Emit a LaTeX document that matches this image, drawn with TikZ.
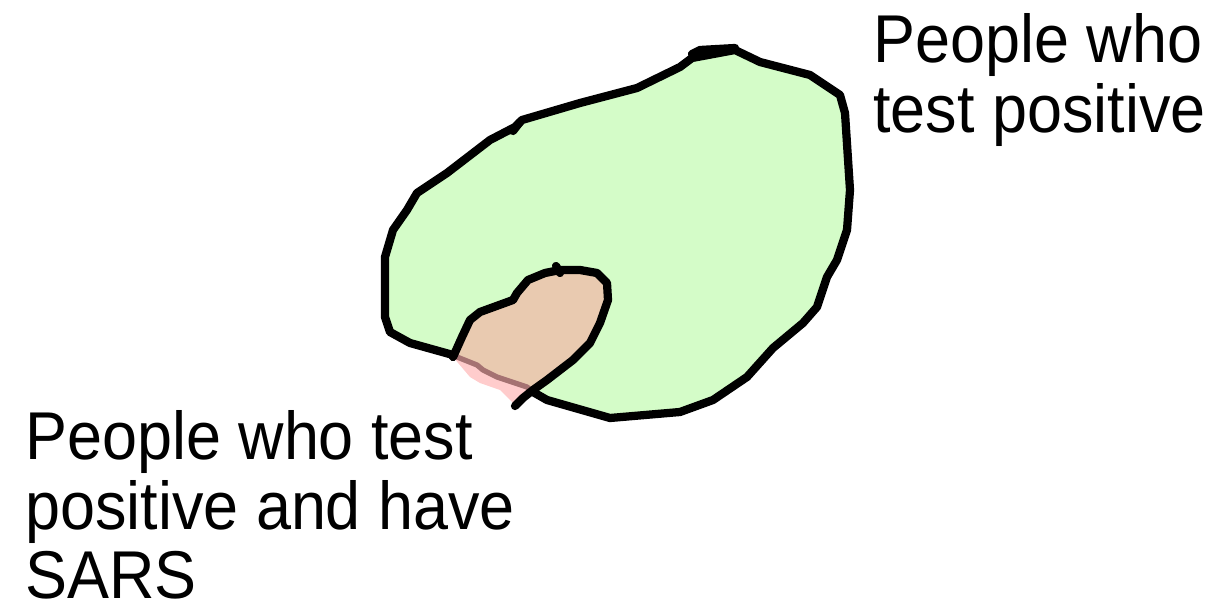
\documentclass[tikz,border=0pt]{standalone}
\usepackage{fontspec}
\setmainfont{Liberation Sans}
\newfontfamily\blobfont[FakeStretch=0.93]{Liberation Sans}
\definecolor{posgreen}{HTML}{D4FCC8}
\definecolor{sarspink}{HTML}{FF9999}
\begin{document}
\begin{tikzpicture}[x=0.02cm,y=-0.02cm,
  outline/.style={line width=4.7pt, line join=round, line cap=round},
  caption/.style={inner sep=0pt, anchor=north west, align=left,
    font=\blobfont\fontsize{38.5}{39.7}\selectfont}]
\useasboundingbox (0,0) rectangle (1215,605);
% people who test positive
\fill[posgreen] (453,355) -- (410,343) -- (390,332) -- (385,317) -- (385,257) -- (393,230) -- (407,210) -- (417,193) -- (447,173) -- (490,140) -- (515,127) -- (522,120) -- (580,103) -- (637,88) -- (680,67) -- (692,58) -- (735,50) -- (760,62) -- (810,75) -- (840,95) -- (845,113) -- (850,190) -- (847,230) -- (837,260) -- (827,277) -- (817,307) -- (803,323) -- (773,348) -- (747,377) -- (713,400) -- (680,412) -- (610,418) -- (547,400) -- (533,392) -- (527,387) -- (497,377) -- (483,370) -- (477,365) -- (457,357) -- cycle;
\draw[outline] (453,355) -- (410,343) -- (390,332) -- (385,317) -- (385,257) -- (393,230) -- (407,210) -- (417,193) -- (447,173) -- (490,140) -- (515,127) -- (522,120) -- (580,103) -- (637,88) -- (680,67) -- (692,58) -- (735,50) -- (760,62) -- (810,75) -- (840,95) -- (845,113) -- (850,190) -- (847,230) -- (837,260) -- (827,277) -- (817,307) -- (803,323) -- (773,348) -- (747,377) -- (713,400) -- (680,412) -- (610,418) -- (547,400) -- (533,392);
\draw[outline, line width=3pt, black!70] (533,392) -- (527,387) -- (497,377) -- (483,370) -- (477,365) -- (457,357) -- (453,355);
% pen nubs
\draw[outline] (692,54) -- (700,50) -- (735,48);
\draw[outline] (513,131) -- (520,122);
% people who test positive and have SARS
\fill[sarspink, opacity=0.5] (453,357) -- (462,337) -- (470,320) -- (480,312) -- (513,300) -- (517,293) -- (528,280) -- (545,273) -- (560,270) -- (580,270) -- (597,273) -- (607,283) -- (608,300) -- (600,323) -- (590,343) -- (573,360) -- (560,370) -- (547,380) -- (533,390) -- (523,398) -- (515,406) -- (512,402) -- (500,390) -- (480,383) -- (470,377) -- cycle;
\draw[outline] (453,357) -- (462,337) -- (470,320) -- (480,312) -- (513,300) -- (517,293) -- (528,280) -- (545,273) -- (560,270) -- (580,270) -- (597,273) -- (607,283) -- (608,300) -- (600,323) -- (590,343) -- (573,360) -- (560,370) -- (547,380) -- (533,390) -- (523,398) -- (515,406);
\draw[outline] (556,266) -- (560,273);
\node[caption] (pos) at (873,13) {People who\\test positive};
\node[caption] (sars) at (25,410) {People who test\\positive and have\\SARS};
\end{tikzpicture}
\end{document}
